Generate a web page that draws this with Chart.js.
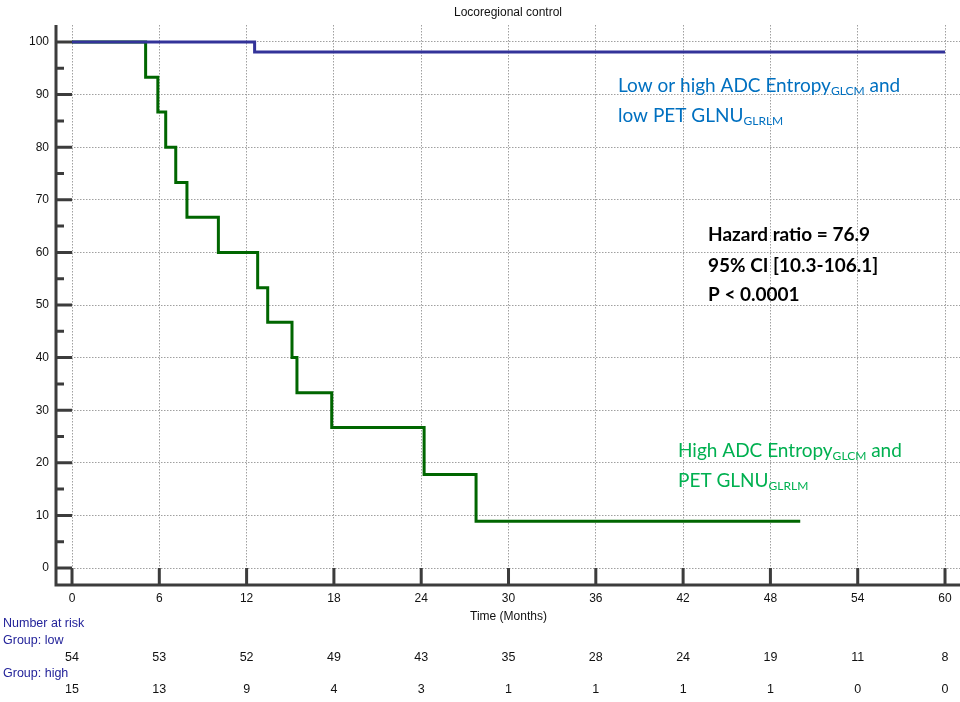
<!DOCTYPE html>
<html><head><meta charset="utf-8">
<script src="https://cdn.jsdelivr.net/npm/chart.js@4"></script>
<style>html,body{margin:0;padding:0;background:#fff}#wrap{width:960px;height:702px;position:relative}</style>
</head><body><div id="wrap"><canvas id="c" width="960" height="702"></canvas></div>
<script>
const chartTitle = "Locoregional control";
const xTitle = "Time (Months)";
const xTicks = [0, 6, 12, 18, 24, 30, 36, 42, 48, 54, 60];
const yTicks = [0, 10, 20, 30, 40, 50, 60, 70, 80, 90, 100];
const yMinorTicks = [5, 15, 25, 35, 45, 55, 65, 75, 85, 95];
const lowTimes = [0, 12.55, 60];
const lowSurv = [100, 98.1, 98.1];
const highTimes = [0, 5.06, 5.9, 6.44, 7.13, 7.9, 10.06, 12.76, 13.45, 15.12, 15.46, 17.85, 24.2, 27.77, 50.05];
const highSurv = [100, 93.3, 86.7, 80, 73.3, 66.7, 60, 53.3, 46.7, 40, 33.3, 26.7, 17.8, 8.9, 8.9];
const riskTitle = "Number at risk";
const riskGroups = ["Group: low", "Group: high"];
const riskLow = [54, 53, 52, 49, 43, 35, 28, 24, 19, 11, 8];
const riskHigh = [15, 13, 9, 4, 3, 1, 1, 1, 1, 0, 0];
const hazardLines = ["Hazard ratio = 76.9", "95% CI [10.3-106.1]", "P < 0.0001"];
const lowLabel = [[{t: "Low or high ADC Entropy"}, {t: "GLCM", sub: true}, {t: " and"}], [{t: "low PET GLNU"}, {t: "GLRLM", sub: true}]];
const highLabel = [[{t: "High ADC Entropy"}, {t: "GLCM", sub: true}, {t: " and"}], [{t: "PET GLNU"}, {t: "GLRLM", sub: true}]];

const AX = '#3c3c3c';
const BASE = "'Liberation Sans', Arial, sans-serif";
const ANN = "Lato, 'Noto Sans', sans-serif";

function rich(ctx, x, y, parts, size, color) {
  ctx.fillStyle = color;
  ctx.textBaseline = 'alphabetic';
  ctx.textAlign = 'left';
  for (const p of parts) {
    if (p.sub) {
      ctx.font = `${Math.round(size * 0.62)}px ${ANN}`;
      ctx.fillText(p.t, x, y + 3);
    } else {
      ctx.font = `${size}px ${ANN}`;
      ctx.fillText(p.t, x, y);
    }
    x += ctx.measureText(p.t).width;
  }
}

const overlay = {
  id: 'overlay',
  afterDraw(chart) {
    const ctx = chart.ctx, a = chart.chartArea;
    const xs = chart.scales.x, ys = chart.scales.y;
    const x0 = xs.getPixelForValue(0), y0 = ys.getPixelForValue(0);
    ctx.save();
    ctx.strokeStyle = AX; ctx.lineWidth = 3; ctx.lineCap = 'butt';
    ctx.beginPath();
    ctx.moveTo(a.left, a.top); ctx.lineTo(a.left, a.bottom + 1.5);
    ctx.moveTo(a.left - 1.5, a.bottom); ctx.lineTo(a.right, a.bottom);
    for (const v of yTicks) { const y = ys.getPixelForValue(v); ctx.moveTo(a.left, y); ctx.lineTo(x0, y); }
    for (const v of yMinorTicks) { const y = ys.getPixelForValue(v); ctx.moveTo(a.left, y); ctx.lineTo(a.left + 8, y); }
    for (const v of xTicks) { const x = xs.getPixelForValue(v); ctx.moveTo(x, a.bottom); ctx.lineTo(x, y0); }
    ctx.stroke();
    // axis title
    ctx.font = `12px ${BASE}`;
    ctx.textBaseline = 'middle';
    ctx.textAlign = 'center';
    ctx.fillStyle = '#111';
    ctx.fillText(xTitle, xs.getPixelForValue(30), 617);
    // number at risk
    ctx.font = `12.5px ${BASE}`;
    ctx.textAlign = 'left';
    ctx.fillStyle = '#23239a';
    ctx.fillText(riskTitle, 3, 624);
    ctx.fillText(riskGroups[0], 3, 641);
    ctx.fillText(riskGroups[1], 3, 674);
    ctx.fillStyle = '#111';
    ctx.textAlign = 'center';
    xTicks.forEach((v, i) => {
      const x = xs.getPixelForValue(v);
      ctx.fillText(String(riskLow[i]), x, 658);
      ctx.fillText(String(riskHigh[i]), x, 690);
    });
    // annotations
    rich(ctx, 618, 92, lowLabel[0], 19, '#0070C0');
    rich(ctx, 618, 122, lowLabel[1], 19, '#0070C0');
    rich(ctx, 678, 457, highLabel[0], 19, '#00B050');
    rich(ctx, 678, 487, highLabel[1], 19, '#00B050');
    ctx.fillStyle = '#000';
    ctx.textAlign = 'left';
    ctx.textBaseline = 'alphabetic';
    ctx.font = `bold 19px ${ANN}`;
    ctx.fillText(hazardLines[0], 708, 241);
    ctx.fillText(hazardLines[1], 708, 272);
    ctx.fillText(hazardLines[2], 708, 301);
    ctx.restore();
  }
};

const mk = (ts, ss) => ts.map((t, i) => ({x: t, y: ss[i]}));

new Chart(document.getElementById('c'), {
  type: 'line',
  data: {
    datasets: [
      {label: 'low', data: mk(lowTimes, lowSurv), borderColor: '#333399', borderWidth: 3, stepped: 'before', pointRadius: 0, fill: false},
      {label: 'high', data: mk(highTimes, highSurv), borderColor: '#006600', borderWidth: 3, stepped: 'before', pointRadius: 0, fill: false}
    ]
  },
  options: {
    responsive: false, animation: false, devicePixelRatio: 1,
    layout: {padding: 0},
    plugins: {
      legend: {display: false}, tooltip: {enabled: false},
      title: {display: true, text: chartTitle, fullSize: false, color: '#111', font: {family: BASE, size: 12, weight: 'normal'}, padding: {top: 5, bottom: 5.6}}
    },
    scales: {
      x: {
        type: 'linear', min: -1.1, max: 61.03,
        afterBuildTicks: s => { s.ticks = xTicks.map(v => ({value: v})); },
        afterFit: s => { s.height = 117; },
        grid: {drawTicks: false, color: '#a0a0a0', lineWidth: 1},
        border: {display: false, dash: [1.5, 1.5]},
        ticks: {color: '#111', font: {family: BASE, size: 12}, padding: 6, maxRotation: 0, autoSkip: false}
      },
      y: {
        type: 'linear', min: -3.23, max: 103.23,
        afterBuildTicks: s => { s.ticks = yTicks.map(v => ({value: v})); },
        afterFit: s => { s.width = 56; },
        grid: {drawTicks: false, color: '#a0a0a0', lineWidth: 1},
        border: {display: false, dash: [1.5, 1.5]},
        ticks: {color: '#111', font: {family: BASE, size: 12}, padding: 7, autoSkip: false}
      }
    }
  },
  plugins: [overlay]
});
</script></body></html>
